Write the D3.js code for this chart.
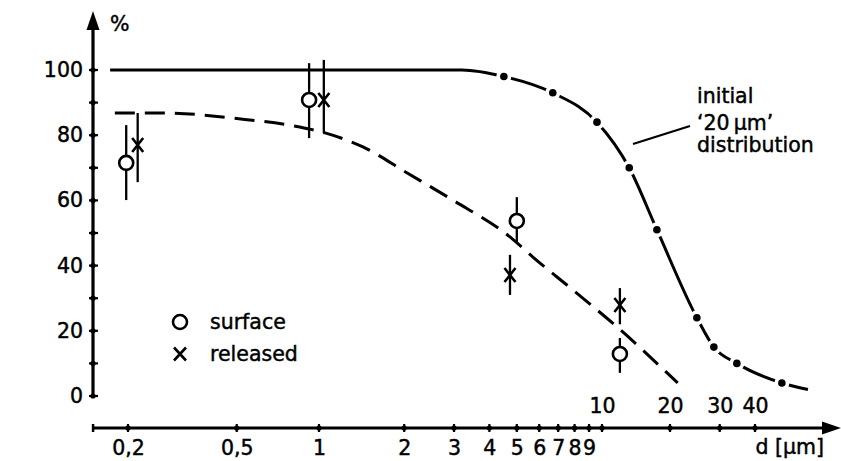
<!DOCTYPE html>
<html>
<head>
<meta charset="utf-8">
<script src="https://cdn.jsdelivr.net/npm/d3@7"></script>
<style>
  body { margin: 0; background: #fff; }
  svg { display: block; }
  text { font-family: "DejaVu Sans", sans-serif; fill: #000; stroke: #000; stroke-width: 0.45px; }
</style>
</head>
<body>
<svg id="chart" width="841" height="461"></svg>
<script>
// Particle diameter d [µm] (log axis) against percentage
const sizeTicks = [0.2, 0.5, 1, 2, 3, 4, 5, 6, 7, 8, 9, 10, 20, 30, 40];
const sizeTicksBelow = [0.2, 0.5, 1, 2, 3, 4, 5, 6, 7, 8, 9];
const sizeLabelsBelow = ["0,2", "0,5", "1", "2", "3", "4", "5", "6", "7", "8", "9"];
const sizeTicksAbove = [10, 20, 30, 40];
const sizeLabelsAbove = ["10", "20", "30", "40"];
const pctTicks = [0, 10, 20, 30, 40, 50, 60, 70, 80, 90, 100];
const pctLabels = [0, 20, 40, 60, 80, 100];

// initial '20 µm' distribution (plateau + measured points)
const initialD   = [0.172, 3.2, 4.5, 6.7, 9.6, 13.2, 17.5, 24.9, 28.6, 34.5, 49.8, 61.6];
const initialPct = [100,   100, 98,  93,  84,  70,   51,   24,   15,   10,   4,    2];
const initialMeasured = [false, false, true, true, true, true, true, true, true, true, true, false];

// fitted dashed curve
const fitD   = [0.179, 0.273, 0.5,  0.85, 1.05, 1.43, 2.05, 2.97, 4.73, 5.7,  7.9,  11.65, 21.3];
const fitPct = [86.8,  86.8,  85.1, 82.5, 80.7, 76.4, 68.4, 60.1, 48.8, 42.6, 32.5, 21.2,  4.0];

// surface samples
const surfaceD   = [0.197, 0.92, 5.0,  12.0];
const surfacePct = [71.5,  90.8, 53.7, 12.9];
const surfaceLo  = [60.1,  79.1, 47.2, 7.1];
const surfaceHi  = [83.1,  102.1, 61.0, 17.8];

// released samples
const releasedD   = [0.217, 1.04, 4.73, 12.0];
const releasedPct = [77.0,  90.8, 37.1, 27.9];
const releasedLo  = [65.6,  80.7, 31.0, 22.0];
const releasedHi  = [86.8,  103.1, 43.3, 33.1];

const svg = d3.select("#chart");
const FS = 20.5;

const x = d3.scaleLog()
  .domain([0.2, 1, 10, 20, 40])
  .range([128, 319, 602, 670, 755]);
const y = d3.scaleLinear().domain([0, 100]).range([396, 70]);

const axisX0 = x(0.149), axisY0 = y(0);
const xAxisY = 428;

// ---- axes ----
const axes = svg.append("g").attr("stroke", "#000").attr("fill", "none");
// vertical axis with arrow
axes.append("line").attr("x1", 93).attr("x2", 93).attr("y1", axisY0 + 1).attr("y2", 24)
  .attr("stroke-width", 3.2);
svg.append("path").attr("d", `M93,11 L86.5,30 L99.5,30 Z`).attr("fill", "#000");
// horizontal axis with arrow
axes.append("line").attr("x1", axisX0).attr("x2", 828).attr("y1", xAxisY).attr("y2", xAxisY)
  .attr("stroke-width", 3.2);
svg.append("path").attr("d", `M841,${xAxisY} L822,${xAxisY - 6.5} L822,${xAxisY + 6.5} Z`).attr("fill", "#000");
axes.append("line").attr("x1", axisX0).attr("x2", axisX0).attr("y1", xAxisY - 4).attr("y2", xAxisY + 4)
  .attr("stroke-width", 2.5);

// y ticks (small crosses)
axes.selectAll(".yt").data(pctTicks).join("line")
  .attr("x1", 89).attr("x2", 98)
  .attr("y1", d => y(d)).attr("y2", d => y(d))
  .attr("stroke-width", 2.2);
svg.selectAll(".ytd").data(pctTicks).join("circle")
  .attr("cx", 93).attr("cy", d => y(d)).attr("r", 2.6).attr("fill", "#000");

// x ticks
axes.selectAll(".xt").data(sizeTicks).join("line")
  .attr("x1", d => x(d)).attr("x2", d => x(d))
  .attr("y1", xAxisY - 4).attr("y2", xAxisY + 4)
  .attr("stroke-width", 2.2);
svg.selectAll(".xtd").data(sizeTicks).join("circle")
  .attr("cx", d => x(d)).attr("cy", xAxisY).attr("r", 2.6).attr("fill", "#000");

function styleLabels(g) {
  g.select(".domain").remove();
  g.attr("font-family", null).attr("font-size", null);
  g.selectAll("text").attr("font-size", FS).attr("fill", "#000");
}

// y labels
svg.append("g").attr("transform", "translate(93,0)")
  .call(d3.axisLeft(y).tickValues(pctLabels).tickSize(0).tickPadding(10).tickFormat(d3.format("d")))
  .call(styleLabels);

// x labels below axis
svg.append("g").attr("transform", `translate(0,${xAxisY})`)
  .call(d3.axisBottom(x).tickValues(sizeTicksBelow).tickSize(0).tickPadding(12)
    .tickFormat((d, i) => sizeLabelsBelow[i]))
  .call(styleLabels);

// x labels above axis
svg.append("g").attr("transform", `translate(0,${xAxisY})`)
  .call(d3.axisTop(x).tickValues(sizeTicksAbove).tickSize(0).tickPadding(15)
    .tickFormat((d, i) => sizeLabelsAbove[i]))
  .call(styleLabels);

// axis titles
svg.append("text").attr("x", 110).attr("y", 31).attr("font-size", FS).text("%");
svg.append("text").attr("x", 824).attr("y", 454).attr("text-anchor", "end").attr("font-size", FS)
  .text("d [µm]");

// ---- curves ----
const line = d3.line().x(d => x(d[0])).y(d => y(d[1])).curve(d3.curveMonotoneX);

const initialData = initialD.map((d, i) => [d, initialPct[i]]);
svg.append("path").attr("d", line(initialData))
  .attr("fill", "none").attr("stroke", "#000").attr("stroke-width", 3);

const measured = initialData.filter((d, i) => initialMeasured[i]);
// gaps around measured points
svg.selectAll(".halo").data(measured).join("circle")
  .attr("cx", d => x(d[0])).attr("cy", d => y(d[1])).attr("r", 7.5).attr("fill", "#fff");
svg.selectAll(".dot").data(measured).join("circle")
  .attr("cx", d => x(d[0])).attr("cy", d => y(d[1])).attr("r", 3.8).attr("fill", "#000");

const fitData = fitD.map((d, i) => [d, fitPct[i]]);
svg.append("path").attr("d", line(fitData))
  .attr("fill", "none").attr("stroke", "#000").attr("stroke-width", 3)
  .attr("stroke-dasharray", "20 10");

// ---- error bars and markers ----
const bars = svg.append("g").attr("stroke", "#000").attr("stroke-width", 2.3);
surfaceD.forEach((d, i) => {
  bars.append("line").attr("x1", x(d)).attr("x2", x(d))
    .attr("y1", y(surfaceLo[i])).attr("y2", y(surfaceHi[i]));
});
releasedD.forEach((d, i) => {
  bars.append("line").attr("x1", x(d)).attr("x2", x(d))
    .attr("y1", y(releasedLo[i])).attr("y2", y(releasedHi[i]));
});

function drawCircle(g, cx, cy) {
  g.append("circle").attr("cx", cx).attr("cy", cy).attr("r", 7)
    .attr("fill", "#fff").attr("stroke", "#000").attr("stroke-width", 2.6);
}
function drawCross(g, cx, cy, w, h) {
  g.append("path")
    .attr("d", `M${cx - w},${cy - h}L${cx + w},${cy + h}M${cx - w},${cy + h}L${cx + w},${cy - h}`)
    .attr("stroke", "#000").attr("stroke-width", 2.6).attr("fill", "none");
}

const marks = svg.append("g");
surfaceD.forEach((d, i) => drawCircle(marks, x(d), y(surfacePct[i])));
releasedD.forEach((d, i) => drawCross(marks, x(d), y(releasedPct[i]), 5.5, 7));

// ---- legend ----
const legend = svg.append("g");
drawCircle(legend, 180, 322);
legend.append("text").attr("x", 210).attr("y", 329).attr("font-size", FS).text("surface");
drawCross(legend, 180, 354, 6, 6.5);
legend.append("text").attr("x", 210).attr("y", 361).attr("font-size", FS).text("released");

// ---- annotation ----
svg.append("line").attr("x1", 633).attr("y1", 144).attr("x2", 690).attr("y2", 126)
  .attr("stroke", "#000").attr("stroke-width", 2.2);
const ann = svg.append("text").attr("font-size", FS);
ann.append("tspan").attr("x", 697).attr("y", 103).text("initial");
ann.append("tspan").attr("x", 697).attr("y", 130).text("\u201820\u2009µm\u2019");
ann.append("tspan").attr("x", 697).attr("y", 152).text("distribution");
</script>
</body>
</html>
